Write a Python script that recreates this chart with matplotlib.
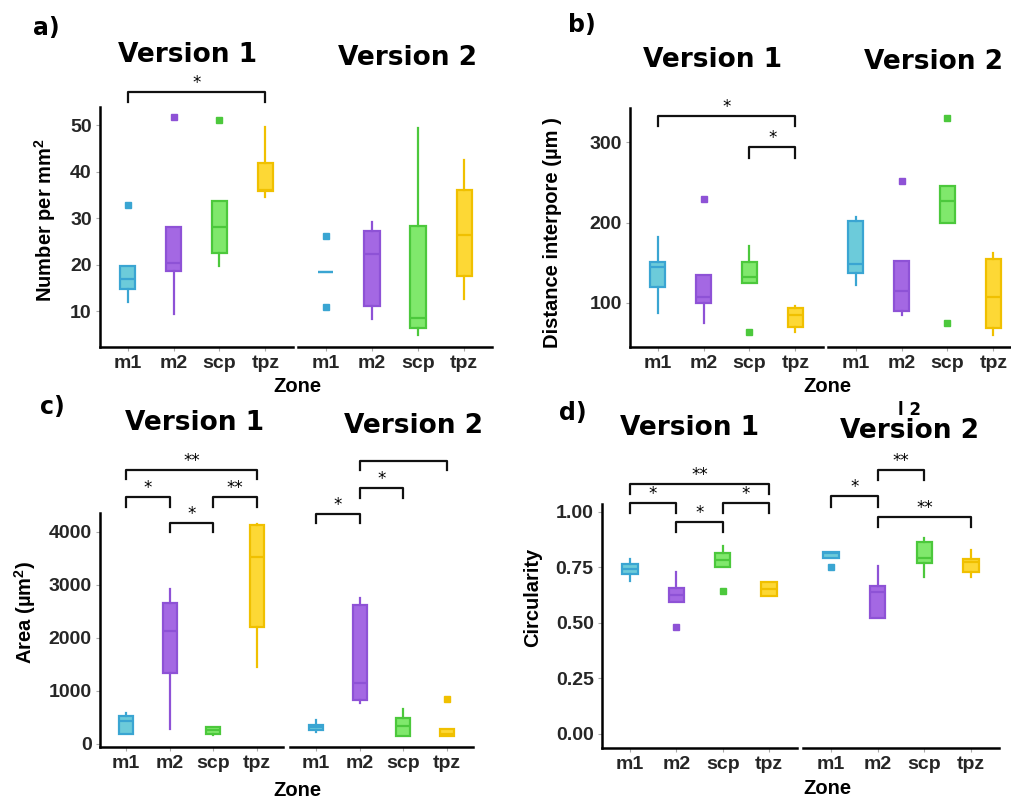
import matplotlib.pyplot as plt

plt.rcParams['font.family'] = ['Liberation Sans', 'DejaVu Sans']
plt.rcParams['mathtext.fontset'] = 'custom'
plt.rcParams['mathtext.rm'] = 'Liberation Sans'
plt.rcParams['mathtext.bf'] = 'Liberation Sans:bold'

zones = ['m1', 'm2', 'scp', 'tpz']
edge_cols = ['#3aa5d2', '#8e52d6', '#4cc83c', '#f0c000']
fill_cols = ['#6ccbda', '#a468e3', '#80e86c', '#fdd835']

# each box: [whisker low, q1, median, q3, whisker high]
a_v1_box = [[12.0, 14.7, 17.0, 19.8, 19.8], [9.5, 18.7, 20.4, 28.1, 28.1],
            [19.7, 22.6, 28.1, 33.7, 33.7], [34.6, 35.8, 36.0, 41.9, 49.6]]
a_v1_out = [[32.8], [51.8], [51.1], []]
a_v2_box = [[18.5, 18.5, 18.5, 18.5, 18.5], [8.4, 11.1, 22.3, 27.2, 29.2],
            [4.8, 6.4, 8.6, 28.3, 49.4], [12.7, 17.6, 26.3, 36.0, 42.5]]
a_v2_out = [[26.1, 10.9], [], [], []]

b_v1_box = [[86.7, 120, 145, 150.5, 181.7], [74.2, 99.2, 106.7, 134.6, 134.6],
            [125, 125, 131.7, 150.5, 171.2], [63.4, 69.2, 84.6, 93, 96]]
b_v1_out = [[], [229.2], [63.4], []]
b_v2_box = [[122, 136.7, 148.4, 202.5, 207.5], [84.6, 90, 115, 152.5, 152.5],
            [199.2, 199.2, 227, 245, 245], [59.6, 68, 106.7, 154.2, 161.7]]
b_v2_out = [[], [252], [330.5, 74.2], []]

c_v1_box = [[176, 176, 428, 517, 586], [284, 1342, 2123, 2659, 2911],
            [158, 189, 265, 315, 315], [1449, 2205, 3528, 4120, 4139]]
c_v1_out = [[], [], [], []]
c_v2_box = [[221, 265, 315, 347, 441], [769, 819, 1153, 2608, 2741],
            [151, 151, 334, 485, 662], [151, 151, 189, 284, 284]]
c_v2_out = [[], [], [], [844]]

d_v1_box = [[0.688, 0.720, 0.744, 0.763, 0.787], [0.595, 0.595, 0.625, 0.655, 0.727],
            [0.753, 0.753, 0.783, 0.813, 0.846], [0.621, 0.621, 0.651, 0.682, 0.682]]
d_v1_out = [[], [0.483], [0.642], []]
d_v2_box = [[0.790, 0.790, 0.813, 0.820, 0.820], [0.523, 0.523, 0.637, 0.667, 0.756],
            [0.708, 0.771, 0.790, 0.865, 0.883], [0.705, 0.730, 0.772, 0.787, 0.828]]
d_v2_out = [[0.753], [], [], []]

# significance brackets: (from, to, bar y, end y, label)
a_v1_sig = [(1, 4, 57.1, 54.9, '*')]
a_v2_sig = []
b_v1_sig = [(1, 4, 333, 321, '*'), (3, 4, 294, 280, '*')]
b_v2_sig = []
c_v1_sig = [(1, 4, 5166, 4990, '**'), (1, 2, 4649, 4473, '*'),
            (3, 4, 4662, 4473, '**'), (2, 3, 4171, 4000, '*')]
c_v2_sig = [(1, 2, 4334, 4158, '*'), (2, 3, 4820, 4630, '*'), (2, 4, 5342, 5166, '')]
d_v1_sig = [(1, 4, 1.123, 1.078, '**'), (1, 2, 1.040, 0.996, '*'),
            (3, 4, 1.040, 0.996, '*'), (2, 3, 0.955, 0.910, '*')]
d_v2_sig = [(1, 2, 1.070, 1.022, '*'), (2, 3, 1.190, 1.142, '**'), (2, 4, 0.977, 0.933, '**')]

W, H = 1011, 800
fig = plt.figure(figsize=(W / 100, H / 100), dpi=100)


def px_axes(x0, x1, y0, y1):
    return fig.add_axes([x0 / W, 1 - y1 / H, (x1 - x0) / W, (y1 - y0) / H])


def draw_facet(ax, boxes, outliers, sig, ylim, yticks, yticklabels, show_y):
    stats = []
    for b, o in zip(boxes, outliers):
        stats.append(dict(whislo=b[0], q1=b[1], med=b[2], q3=b[3], whishi=b[4], fliers=o))
    arts = ax.bxp(stats, positions=[1, 2, 3, 4], widths=0.33, patch_artist=True,
                  showcaps=False)
    for k in range(4):
        arts['boxes'][k].set(facecolor=fill_cols[k], edgecolor=edge_cols[k], linewidth=1.6)
        arts['medians'][k].set(color=edge_cols[k], linewidth=1.6)
        for w in arts['whiskers'][2 * k:2 * k + 2]:
            w.set(color=edge_cols[k], linewidth=1.6)
        arts['fliers'][k].set(marker='s', markersize=4.5, markerfacecolor=edge_cols[k],
                              markeredgecolor=edge_cols[k])
    for i, j, yb, ye, lab in sig:
        ax.plot([i, i, j, j], [ye, yb, yb, ye], color='#111111', lw=1.6, clip_on=False)
        if lab:
            ax.annotate(lab, xy=((i + j) / 2, yb), xytext=(0, 0), textcoords='offset points',
                        ha='center', va='bottom', fontsize=12, family='DejaVu Sans',
                        annotation_clip=False)
    ax.set_xlim(0.4, 4.6)
    ax.set_ylim(*ylim)
    ax.set_xticks([1, 2, 3, 4])
    ax.set_xticklabels(zones, fontsize=14, fontweight='bold', color='#262626')
    ax.tick_params(axis='x', length=3, color='#aaaaaa', pad=3)
    for s in ['top', 'right']:
        ax.spines[s].set_visible(False)
    ax.spines['bottom'].set_linewidth(1.8)
    if show_y:
        ax.spines['left'].set_linewidth(1.8)
        ax.set_yticks(yticks)
        ax.set_yticklabels(yticklabels, fontsize=14, fontweight='bold', color='#262626')
        ax.tick_params(axis='y', length=3, color='#aaaaaa', pad=3)
    else:
        ax.spines['left'].set_visible(False)
        ax.set_yticks([])
    ax.set_facecolor('none')


def title(x, y, s, size=19):
    fig.text(x / W, 1 - y / H, s, ha='center', va='center', fontsize=size,
             fontweight='bold', family='DejaVu Sans')


def label(x, y, s, rot=0, size=14.5):
    fig.text(x / W, 1 - y / H, s, ha='center', va='center', fontsize=size,
             fontweight='bold', rotation=rot)


# panel a
ylim_a = (2.3, 53.9)
draw_facet(px_axes(100, 293, 107, 347), a_v1_box, a_v1_out, a_v1_sig, ylim_a,
           [10, 20, 30, 40, 50], ['10', '20', '30', '40', '50'], True)
draw_facet(px_axes(298, 492, 107, 347), a_v2_box, a_v2_out, a_v2_sig, ylim_a, [], [], False)
title(46, 28, 'a)', 17)
title(188, 55, 'Version 1')
title(407, 58, 'Version 2')
label(45, 220, r'Number per mm$^\mathbf{2}$', 90)
label(297, 387, 'Zone')

# panel b
ylim_b = (44.6, 343)
draw_facet(px_axes(630, 823, 108, 347), b_v1_box, b_v1_out, b_v1_sig, ylim_b,
           [100, 200, 300], ['100', '200', '300'], True)
draw_facet(px_axes(828, 1021, 108, 347), b_v2_box, b_v2_out, b_v2_sig, ylim_b, [], [], False)
title(582, 25, 'b)', 17)
title(713, 60, 'Version 1')
title(933, 62, 'Version 2')
label(553, 233, 'Distance interpore (µm )', 90)
label(827, 387, 'Zone')

# panel c
ylim_c = (-63, 4353)
draw_facet(px_axes(100, 283, 513, 747), c_v1_box, c_v1_out, c_v1_sig, ylim_c,
           [0, 1000, 2000, 3000, 4000], ['0', '1000', '2000', '3000', '4000'], True)
draw_facet(px_axes(290, 473, 513, 747), c_v2_box, c_v2_out, c_v2_sig, ylim_c, [], [], False)
title(52, 407, 'c)', 17)
title(195, 423, 'Version 1')
title(413, 426, 'Version 2')
label(25, 613, r'Area (µm$^\mathbf{2}$)', 90)
label(297, 790, 'Zone')

# panel d
ylim_d = (-0.063, 1.035)
draw_facet(px_axes(602, 797, 504, 748), d_v1_box, d_v1_out, d_v1_sig, ylim_d,
           [0, 0.25, 0.5, 0.75, 1.0], ['0.00', '0.25', '0.50', '0.75', '1.00'], True)
draw_facet(px_axes(803, 999, 504, 748), d_v2_box, d_v2_out, d_v2_sig, ylim_d, [], [], False)
title(573, 413, 'd)', 17)
title(690, 428, 'Version 1')
title(909, 431, 'Version 2')
title(910, 410, 'l 2', 12)
label(533, 597, 'Circularity', 90)
label(827, 788, 'Zone')

fig.savefig('out.png', dpi=100)
